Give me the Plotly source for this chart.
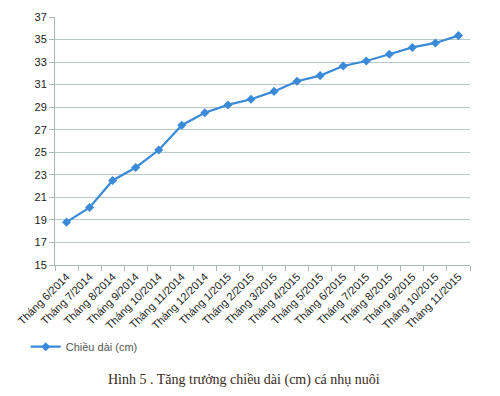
import plotly.graph_objects as go

months = ["Tháng 6/2014", "Tháng 7/2014", "Tháng 8/2014", "Tháng 9/2014", "Tháng 10/2014",
          "Tháng 11/2014", "Tháng 12/2014", "Tháng 1/2015", "Tháng 2/2015", "Tháng 3/2015",
          "Tháng 4/2015", "Tháng 5/2015", "Tháng 6/2015", "Tháng 7/2015", "Tháng 8/2015",
          "Tháng 9/2015", "Tháng 10/2015", "Tháng 11/2015"]
length_cm = [18.8, 20.1, 22.5, 23.65, 25.2, 27.4, 28.5, 29.2, 29.7, 30.4,
             31.3, 31.8, 32.65, 33.1, 33.7, 34.3, 34.7, 35.35]
y_ticks = [15, 17, 19, 21, 23, 25, 27, 29, 31, 33, 35, 37]

fig = go.Figure()
fig.add_trace(go.Scatter(
    x=months, y=length_cm, mode="lines+markers", name="Chiều dài (cm)",
    line=dict(color="#3a8ad8", width=2.2),
    marker=dict(symbol="diamond", size=7, color="#3a8ad8"),
))

fig.update_layout(
    width=492, height=388,
    paper_bgcolor="white", plot_bgcolor="white",
    margin=dict(l=47, r=30, t=9, b=131),
    font=dict(family="Liberation Sans, Arial, sans-serif", color="#333"),
    showlegend=True,
    legend=dict(orientation="h", x=0.036, xref="container", y=0.127, yref="container",
                yanchor="middle", xanchor="left", itemwidth=30,
                font=dict(size=11, color="#555")),
    xaxis=dict(
        type="category", tickangle=-45, tickson="boundaries",
        ticks="outside", ticklen=5, tickcolor="#aab8b8",
        showline=True, linecolor="#aab8b8", linewidth=1,
        showgrid=False, tickfont=dict(size=11, color="#1a1a1a"),
        range=[-0.5, 17.5], automargin=False,
    ),
    yaxis=dict(
        range=[15, 37], tickvals=y_ticks,
        ticks="outside", ticklen=5, tickcolor="#aab8b8",
        showline=True, linecolor="#aab8b8", linewidth=1,
        showgrid=True, gridcolor="#b9c9c9", gridwidth=1,
        tickfont=dict(size=11, color="#1a1a1a"),
        zeroline=False, automargin=False,
    ),
)

fig.add_annotation(
    text="Hình 5 . Tăng trưởng chiều dài (cm) cá nhụ nuôi",
    xref="paper", yref="paper", x=0.455, y=-0.464, yanchor="middle",
    showarrow=False,
    font=dict(family="Liberation Serif, Times New Roman, serif", size=14, color="#3a2a20"),
)

fig.write_html("out.html")
